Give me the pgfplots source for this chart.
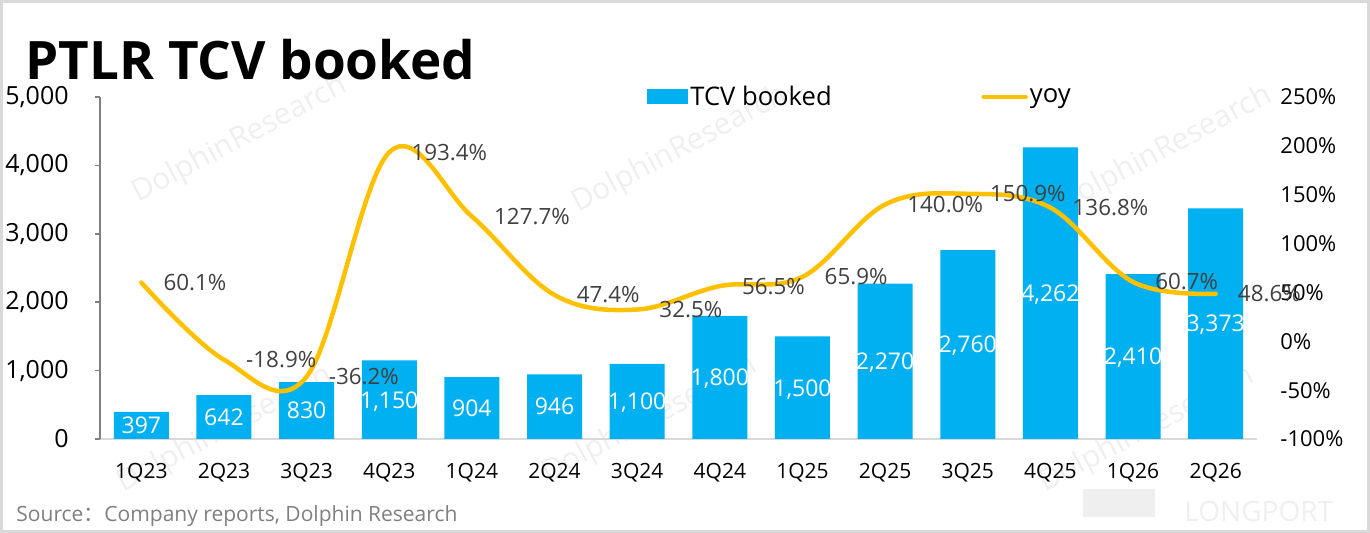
\documentclass[border=0pt]{standalone}
\usepackage{pgfplots}
\pgfplotsset{compat=1.18}
\usepackage{pgfplotstable}
\usepackage{fontspec}
\setmainfont{Open Sans}
\newfontfamily\cjk{Noto Sans CJK SC}
\definecolor{tcvblue}{HTML}{00B0F0}
\definecolor{yoyc}{HTML}{FFC000}
\definecolor{lbl}{HTML}{404040}
\definecolor{axgray}{HTML}{808080}
\definecolor{xgray}{HTML}{D9D9D9}
\definecolor{wm}{HTML}{EFEFEF}
\definecolor{srcgray}{HTML}{7F7F7F}

\pgfplotstableread{
x tcv yoy
0 397 60.1
1 642 -18.9
2 830 -36.2
3 1150 193.4
4 904 127.7
5 946 47.4
6 1100 32.5
7 1800 56.5
8 1500 65.9
9 2270 140.0
10 2760 150.9
11 4262 136.8
12 2410 60.7
13 3373 48.6
}\data

\begin{document}
\begin{tikzpicture}
\path (0,0) rectangle (685pt,266.5pt);
% watermarks
\foreach \wx/\wy in {120/196.5, 340/191.5, 582.5/191.5, 112.5/51.5, 325/56.5, 573.5/51.5}{
  \node[rotate=28, text=wm, font=\fontsize{15}{15}\selectfont] at (\wx pt,\wy pt) {DolphinResearch};
}
\fill[wm] (541.5pt,8pt) rectangle (577.5pt,22pt);
\node[anchor=west, inner sep=0pt, text=wm, font=\fontsize{14}{14}\selectfont] at (592pt,11pt) {LONGPORT};
% border
\draw[xgray, line width=1.5pt] (0.75pt,0.75pt) rectangle (684.25pt,265.75pt);
% title
\node[anchor=base west, inner sep=0pt, font=\fontsize{26.5}{26.5}\bfseries\selectfont] at (12.5pt,226.5pt) {PTLR TCV booked};
% source
\node[anchor=base west, inner sep=0pt, text=srcgray, font=\fontsize{10.5}{10.5}\selectfont] at (8pt,5.5pt) {Source{\cjk ：}Company reports, Dolphin Research};

\begin{axis}[
  at={(50pt,47pt)}, anchor=south west,
  width=578.5pt, height=171pt, scale only axis,
  xmin=-0.5, xmax=13.5, ymin=0, ymax=5000,
  xtick={0,...,13},
  xticklabels={1Q23,2Q23,3Q23,4Q23,1Q24,2Q24,3Q24,4Q24,1Q25,2Q25,3Q25,4Q25,1Q26,2Q26},
  ytick={0,1000,...,5000},
  axis x line*=bottom, axis y line*=left,
  x axis line style={draw=xgray, line width=1pt},
  y axis line style={draw=axgray, line width=0.75pt},
  tick align=outside,
  xtick style={draw=none},
  ytick style={draw=axgray, line width=0.75pt},
  major tick length=2.5pt,
  /pgf/number format/assume math mode=true,
  /pgf/number format/1000 sep={,},
  yticklabel style={font=\fontsize{12.5}{12.5}\selectfont, inner sep=0pt, xshift=-13pt},
  xticklabel style={font=\fontsize{10.5}{10.5}\selectfont, inner sep=0pt, yshift=-9.5pt},
  legend style={at={(0.4728,1.0)}, anchor=west, draw=none, fill=none, inner sep=0pt,
    nodes={inner sep=0pt}, column sep=1pt, font=\fontsize{12.8}{12.8}\selectfont},
  clip=false,
]
\addplot[ybar, bar width=27.5pt, fill=tcvblue, draw=none,
  legend image code/.code={\fill[tcvblue] (0pt,-3.75pt) rectangle (20.5pt,3.75pt);},
  visualization depends on={rawy \as \rawy},
  nodes near coords={\pgfmathprintnumber{\pgfplotspointmeta}},
  every node near coord/.append style={anchor=center, yshift={-0.0171*\rawy*1pt},
    text=white, inner sep=0pt, text depth=0pt, font=\fontsize{11.5}{11.5}\selectfont},
  ] table[x=x,y=tcv]{\data};
\addlegendentry{TCV booked}
\end{axis}

\begin{axis}[
  at={(50pt,47pt)}, anchor=south west,
  width=578.5pt, height=171pt, scale only axis,
  xmin=-0.5, xmax=13.5, ymin=-100, ymax=250,
  axis y line*=right, hide x axis,
  y axis line style={draw=none},
  ytick={-100,-50,...,250},
  major tick length=0pt,
  /pgf/number format/assume math mode=true,
  yticklabel={\pgfmathprintnumber{\tick}\%},
  yticklabel style={font=\fontsize{11}{11}\selectfont, inner sep=0pt, xshift=11.5pt},
  legend style={at={(0.7615,1.0)}, anchor=west, draw=none, fill=none, inner sep=0pt,
    nodes={inner sep=0pt}, column sep=1pt, font=\fontsize{12.8}{12.8}\selectfont},
  clip=false,
]
\addplot[yoyc, line width=2.25pt, line cap=round, smooth, tension=0.6,
  legend image code/.code={\draw[yoyc, line width=2.25pt, line cap=round] (0pt,0pt) -- (21pt,0pt);},
  point meta=y,
  nodes near coords={\pgfmathprintnumber[fixed,fixed zerofill,precision=1]{\pgfplotspointmeta}\%},
  every node near coord/.append style={anchor=west, xshift=10pt, text=lbl, inner sep=0pt,
    font=\fontsize{11.2}{11.2}\selectfont},
  ] table[x=x,y=yoy]{\data};
\addlegendentry{yoy}
\end{axis}
\end{tikzpicture}
\end{document}
